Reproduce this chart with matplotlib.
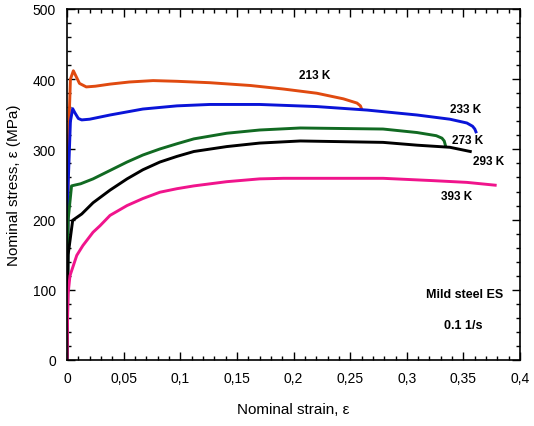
import matplotlib
matplotlib.use('Agg')
import matplotlib.pyplot as plt
from matplotlib.ticker import MultipleLocator, FuncFormatter

plt.rcParams['font.family'] = ['Liberation Sans', 'DejaVu Sans']

# Curves (strain, stress in MPa)
strain_213 = [0, 0.001, 0.003, 0.0056, 0.008, 0.011, 0.017, 0.025, 0.038, 0.055, 0.076, 0.097,
              0.126, 0.162, 0.191, 0.2205, 0.244, 0.256, 0.259, 0.260]
stress_213 = [0, 300, 400, 412, 404, 394, 389, 390, 393, 396, 398, 397,
              395, 391, 386, 380, 372, 366, 362, 358]

strain_233 = [0, 0.001, 0.003, 0.005, 0.007, 0.010, 0.013, 0.020, 0.038, 0.067, 0.097, 0.126,
              0.170, 0.2205, 0.265, 0.309, 0.338, 0.353, 0.358, 0.360, 0.361]
stress_233 = [0, 250, 340, 358, 352, 344, 342, 343, 349, 357.5, 362, 364,
              364, 361, 356, 349, 343, 337.6, 333, 329, 325]

strain_273 = [0, 0.001, 0.004, 0.0065, 0.012, 0.023, 0.038, 0.053, 0.067, 0.082, 0.097, 0.112,
              0.141, 0.170, 0.206, 0.279, 0.309, 0.326, 0.331, 0.333, 0.334]
stress_273 = [0, 200, 248, 249, 251, 258, 270, 282, 292, 300.6, 308, 315,
              323, 327.6, 330.5, 329, 324, 319.5, 316, 312, 306]

strain_293 = [0, 0.001, 0.005, 0.013, 0.023, 0.038, 0.053, 0.067, 0.082, 0.097, 0.112, 0.141,
              0.170, 0.206, 0.279, 0.309, 0.338, 0.356]
stress_293 = [0, 150, 199, 208, 224, 242, 258, 271, 282, 290, 297, 304,
              309, 312, 310, 306, 303, 297]

strain_393 = [0, 0.0005, 0.001, 0.0026, 0.0086, 0.014, 0.023, 0.029, 0.038, 0.053, 0.067, 0.082,
              0.097, 0.112, 0.141, 0.170, 0.191, 0.279, 0.323, 0.353, 0.378]
stress_393 = [0, 60, 95, 120, 149, 163, 182, 191, 206, 220, 230, 239,
              244, 248, 254, 258, 258.8, 258.8, 255.5, 253, 249]

curves = [
    ('213 K', strain_213, stress_213, '#e04a10', (0.219, 406)),
    ('233 K', strain_233, stress_233, '#0a14d8', (0.352, 357)),
    ('273 K', strain_273, stress_273, '#116a22', (0.354, 313)),
    ('293 K', strain_293, stress_293, '#000000', (0.372, 283)),
    ('393 K', strain_393, stress_393, '#f0148c', (0.344, 233)),
]

fig = plt.figure(figsize=(5.34, 4.27), dpi=100)
ax = fig.add_axes([0.1255, 0.1546, 0.8485, 0.822])

for label, xs, ys, color, pos in curves:
    ax.plot(xs, ys, color=color, linewidth=2.1, solid_joinstyle='round')
    ax.text(pos[0], pos[1], label, fontsize=8.5, fontweight='bold', ha='center', va='center')

ax.text(0.351, 94, 'Mild steel ES', fontsize=9, fontweight='bold', ha='center', va='center')
ax.text(0.350, 50, '0.1 1/s', fontsize=9, fontweight='bold', ha='center', va='center')

ax.set_xlim(0, 0.4)
ax.set_ylim(0, 500)
ax.xaxis.set_major_locator(MultipleLocator(0.05))
ax.xaxis.set_minor_locator(MultipleLocator(0.01))
ax.yaxis.set_major_locator(MultipleLocator(100))
ax.yaxis.set_minor_locator(MultipleLocator(20))
ax.xaxis.set_major_formatter(FuncFormatter(lambda v, p: ('%g' % round(v, 2)).replace('.', ',')))
ax.tick_params(which='both', direction='in', top=True, right=True, labelsize=10, pad=8, width=1)
ax.tick_params(which='major', length=6)
ax.tick_params(which='minor', length=3)
for s in ax.spines.values():
    s.set_linewidth(1.2)

ax.set_xlabel('Nominal strain, \u03b5', fontsize=11, labelpad=12)
ax.set_ylabel('Nominal stress, \u03b5 (MPa)', fontsize=11, labelpad=8)

fig.savefig('out.png', dpi=100)
